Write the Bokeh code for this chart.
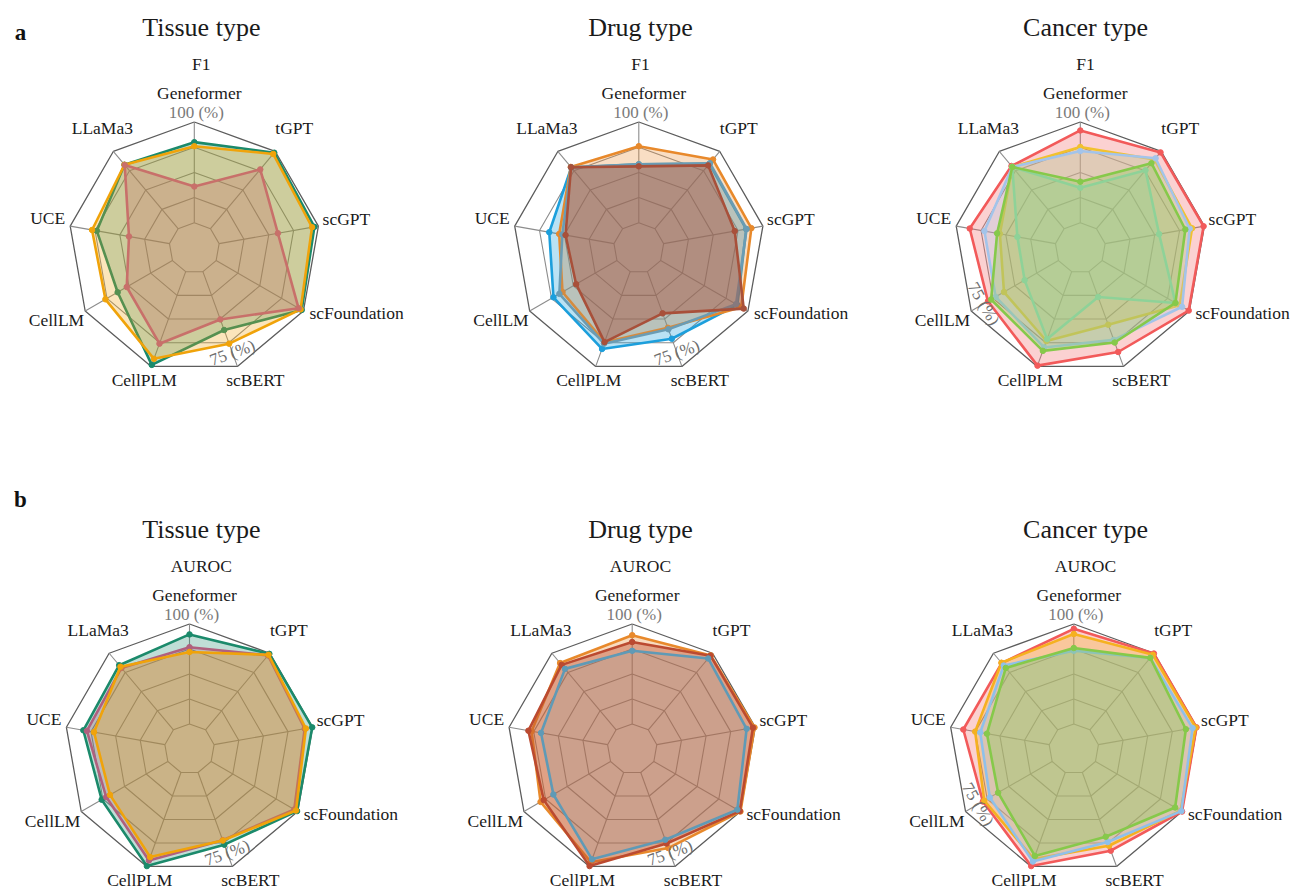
import math
from bokeh.plotting import figure
from bokeh.embed import file_html
from bokeh.resources import INLINE
from bokeh.core.properties import value

# ---------------- data ----------------
axis_names = ["Geneformer", "tGPT", "scGPT", "scFoundation", "scBERT",
              "CellPLM", "CellLM", "UCE", "LLaMa3"]
v_min, v_max = 75, 100
panel_letters = ["a", "b"]
titles = ["Tissue type", "Drug type", "Cancer type"]
metrics = ["F1", "AUROC"]

# a: F1
tissue_f1_green = [95.0, 99.6, 99.0, 99.5, 90.4, 99.6, 90.7, 93.3, 95.7]
tissue_f1_orange = [94.0, 99.2, 98.4, 99.2, 94.0, 98.0, 94.2, 94.5, 95.7]
tissue_f1_red = [84.0, 94.2, 89.8, 98.6, 87.6, 94.0, 88.1, 85.2, 95.6]

drug_f1_blue = [89.5, 96.0, 95.8, 97.0, 92.7, 95.4, 93.2, 91.3, 94.8]
drug_f1_orange = [94.0, 97.4, 97.1, 98.1, 89.8, 93.6, 90.6, 88.8, 95.0]
drug_f1_steel = [89.5, 96.2, 95.9, 96.6, 90.2, 94.0, 91.5, 88.0, 94.9]
drug_f1_red = [89.0, 95.5, 92.9, 98.8, 86.0, 93.6, 86.7, 87.2, 94.9]

cancer_f1_red = [97.9, 99.7, 99.8, 99.8, 96.2, 99.8, 95.2, 96.6, 95.3]
cancer_f1_yellow = [93.8, 97.4, 96.9, 97.2, 89.0, 93.3, 90.6, 89.0, 95.0]
cancer_f1_lblue = [92.8, 97.8, 96.3, 97.9, 93.0, 95.0, 93.0, 92.9, 95.0]
cancer_f1_teal = [83.7, 93.9, 88.6, 96.0, 81.7, 92.8, 84.7, 84.6, 95.0]
cancer_f1_green = [85.2, 96.2, 95.2, 96.0, 93.7, 95.9, 94.3, 89.7, 95.0]

# b: AUROC
tissue_auc_green = [97.4, 99.8, 99.9, 99.8, 94.2, 99.9, 94.1, 95.7, 96.1]
tissue_auc_purple = [94.2, 99.3, 98.0, 99.0, 93.0, 98.4, 92.8, 94.8, 95.2]
tissue_auc_orange = [93.0, 99.5, 98.3, 99.5, 93.1, 97.5, 91.7, 93.0, 95.6]

drug_auc_orange = [97.2, 99.3, 99.8, 100.0, 95.1, 98.9, 95.2, 94.3, 96.8]
drug_auc_red = [95.5, 99.2, 99.4, 99.8, 93.9, 99.9, 94.3, 95.1, 96.2]
drug_auc_steel = [93.3, 98.3, 97.8, 99.1, 92.9, 98.1, 91.5, 91.9, 94.9]

cancer_auc_red = [98.8, 99.9, 99.9, 100.0, 95.8, 99.9, 95.0, 96.8, 96.8]
cancer_auc_orange = [97.5, 99.5, 99.7, 99.6, 94.5, 98.0, 94.6, 93.8, 96.9]
cancer_auc_lblue = [93.3, 98.5, 98.9, 99.8, 93.5, 98.7, 93.0, 92.5, 96.0]
cancer_auc_green = [94.0, 98.5, 97.2, 98.0, 92.1, 97.2, 90.6, 90.8, 95.2]

# ---------------- styling / layout ----------------
C_GREEN = "#1b8a6b"; C_ORANGE = "#f0a30a"; C_ROSE = "#c8706a"
C_BLUE = "#1c9fdc"; C_DORANGE = "#e8892b"; C_STEEL = "#6a9cb4"; C_BROWN = "#a8503a"
C_RED = "#f25a5a"; C_YELLOW = "#f2c12e"; C_LBLUE = "#a3c4ea"; C_LGREEN = "#86c94a"; C_TEAL = "#93d6bb"
C_PURPLE = "#b0607e"; C_RUST = "#bb4a30"; C_STEEL2 = "#5f9ab6"; C_ORANGE2 = "#f5b120"; C_LBLUE2 = "#8fc0ea"

charts = [
    dict(row=0, col=0, series=[(tissue_f1_green, C_GREEN, 0.28), (tissue_f1_orange, C_ORANGE, 0.28), (tissue_f1_red, C_ROSE, 0.3)], lab75=4),
    dict(row=0, col=1, series=[(drug_f1_blue, C_BLUE, 0.3), (drug_f1_orange, C_DORANGE, 0.28), (drug_f1_steel, C_STEEL, 0.15), (drug_f1_red, C_BROWN, 0.45)], lab75=4),
    dict(row=0, col=2, series=[(cancer_f1_red, C_RED, 0.28), (cancer_f1_yellow, C_YELLOW, 0.28), (cancer_f1_lblue, C_LBLUE, 0.28), (cancer_f1_teal, C_TEAL, 0.28), (cancer_f1_green, C_LGREEN, 0.3)], lab75=6),
    dict(row=1, col=0, series=[(tissue_auc_green, C_GREEN, 0.28), (tissue_auc_purple, C_PURPLE, 0.28), (tissue_auc_orange, C_ORANGE, 0.3)], lab75=4),
    dict(row=1, col=1, series=[(drug_auc_orange, C_DORANGE, 0.3), (drug_auc_red, C_RUST, 0.4), (drug_auc_steel, C_STEEL2, 0.15)], lab75=4),
    dict(row=1, col=2, series=[(cancer_auc_red, C_RED, 0.28), (cancer_auc_orange, C_ORANGE2, 0.3), (cancer_auc_lblue, C_LBLUE2, 0.28), (cancer_auc_green, C_LGREEN, 0.32)], lab75=6),
]

W, H = 1292, 891
centers_x = [[193.8, 638.3, 1079.8], [189.0, 631.7, 1073.3]]   # screen px
centers_y = [247.5, 748.5]
radius = [126.0, 125.0]
title_x = [[200.8, 640.0, 1085.0], [200.8, 640.0, 1085.0]]
n = len(axis_names)
FONT = value("Liberation Serif")

def cx_(X):
    return X
def cy_(Y):
    return H - Y

def frac(v):
    return 0.2 + 0.8 * (v - v_min) / (v_max - v_min)

def pt(cx, cy, R, f, k):
    a = 2 * math.pi * k / n
    return cx + R * f * math.sin(a), cy - R * f * math.cos(a)

p = figure(width=W, height=H, x_range=(0, W), y_range=(0, H),
           output_backend="svg", toolbar_location=None, min_border=0)
p.axis.visible = False
p.grid.visible = False
p.outline_line_color = None
p.background_fill_color = "white"

# label offsets relative to outer vertex (screen px) and alignment
lab_off = [None, (19, -23, "center"), (28, -7, "center"), (6, 2, "left"), (18, 14, "center"),
           (-7, 14, "center"), (-1, 9, "right"), (-5, -8, "right"), (-11, -23, "center")]

for ch in charts:
    r, c = ch["row"], ch["col"]
    cx, cy, R = centers_x[r][c], centers_y[r], radius[r]
    # grid rings
    for i, f in enumerate([0.2, 0.4, 0.6, 0.8, 1.0]):
        pts = [pt(cx, cy, R, f, k) for k in range(n)] + [pt(cx, cy, R, f, 0)]
        p.line([cx_(q[0]) for q in pts], [cy_(q[1]) for q in pts],
               line_color="#5c5c5c" if f == 1.0 else "#8c8c8c",
               line_width=1.3 if f == 1.0 else 1.1)
    for k in range(n):
        a = pt(cx, cy, R, 0.2, k); b = pt(cx, cy, R, 1.0, k)
        p.line([cx_(a[0]), cx_(b[0])], [cy_(a[1]), cy_(b[1])], line_color="#8c8c8c", line_width=1.1)
    # series
    for vals, col, alpha in ch["series"]:
        pts = [pt(cx, cy, R, frac(v), k) for k, v in enumerate(vals)]
        xs = [cx_(q[0]) for q in pts]; ys = [cy_(q[1]) for q in pts]
        p.patch(xs, ys, fill_color=col, fill_alpha=alpha, line_color=None)
        p.line(xs + [xs[0]], ys + [ys[0]], line_color=col, line_width=2.6, line_join="round")
        p.scatter(xs, ys, size=5.5, fill_color=col, line_color=col)
    # axis labels
    for k in range(1, n):
        vx, vy = pt(cx, cy, R, 1.0, k)
        dx, dy, al = lab_off[k]
        p.text([cx_(vx + dx)], [cy_(vy + dy)], text=[axis_names[k]], text_font=FONT,
               text_font_size="17.5px", text_align=al, text_baseline="middle", text_color="#1a1a1a")
    tx, ty = pt(cx, cy, R, 1.0, 0)
    p.text([cx_(tx + 5)], [cy_(ty - 29)], text=[axis_names[0]], text_font=FONT,
           text_font_size="17.5px", text_align="center", text_baseline="middle", text_color="#1a1a1a")
    p.text([cx_(tx + 2)], [cy_(ty - 9.5)], text=["%d (%%)" % v_max], text_font=FONT,
           text_font_size="17px", text_align="center", text_baseline="middle", text_color="#7a7a7a")
    # min label, rotated along the ring
    k = ch["lab75"]
    lx, ly = pt(cx, cy, R, 0.885, k)
    ang = math.pi - 2 * math.pi * k / n
    p.text([cx_(lx)], [cy_(ly)], text=["%d (%%)" % v_min], angle=[ang], text_font=FONT,
           text_font_size="17px", text_align="center", text_baseline="middle", text_color="#6e6e6e")
    # metric + title
    p.text([cx_(title_x[r][c])], [cy_(ty - 58)], text=[metrics[r]], text_font=FONT,
           text_font_size="17.5px", text_align="center", text_baseline="middle", text_color="#1a1a1a")
    p.text([cx_(title_x[r][c])], [cy_(ty - 95)], text=[titles[c]], text_font=FONT,
           text_font_size="26px", text_align="center", text_baseline="middle", text_color="#1a1a1a")

for i, L in enumerate(panel_letters):
    p.text([cx_(20)], [cy_([32, 499][i])], text=[L], text_font=FONT, text_font_style="bold",
           text_font_size="23px", text_align="center", text_baseline="middle", text_color="#111111")

open("out.html", "w").write(file_html(p, INLINE))
